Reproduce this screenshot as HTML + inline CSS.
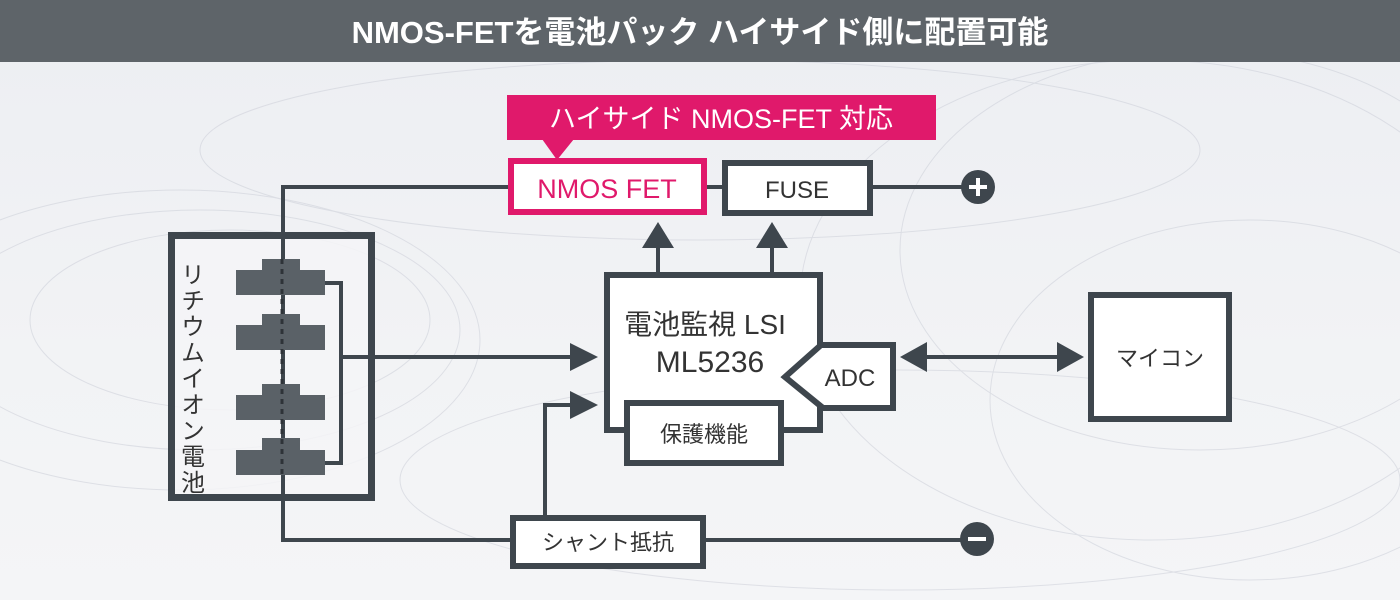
<!DOCTYPE html>
<html><head><meta charset="utf-8"><style>
html,body{margin:0;padding:0;width:1400px;height:600px;overflow:hidden}
body{background:linear-gradient(180deg,#eceef2,#f2f3f5 60%,#f4f5f7);font-family:"Liberation Sans","Noto Sans CJK JP",sans-serif}
</style></head><body>
<svg width="1400" height="600" xmlns="http://www.w3.org/2000/svg" style="position:absolute;left:0;top:0" font-family="Liberation Sans, Noto Sans CJK JP, sans-serif">
<g fill="none" stroke="#c9ccd6" stroke-width="1" opacity="0.5">
<ellipse cx="200" cy="330" rx="260" ry="120"/><ellipse cx="230" cy="320" rx="200" ry="90"/>
<ellipse cx="180" cy="340" rx="300" ry="150"/><ellipse cx="1200" cy="250" rx="300" ry="200"/>
<ellipse cx="1150" cy="300" rx="350" ry="240"/><ellipse cx="700" cy="150" rx="500" ry="90"/>
<ellipse cx="1250" cy="400" rx="260" ry="180"/><ellipse cx="900" cy="480" rx="500" ry="110"/>
</g>
<rect x="0" y="0" width="1400" height="62" fill="#5e6469"/>
<text x="700" y="43" text-anchor="middle" font-size="31" font-weight="bold" fill="#fff">NMOS-FETを電池パック ハイサイド側に配置可能</text>
<rect x="171.5" y="235.5" width="200" height="262" fill="#f4f5f7" fill-opacity="0.85" stroke="#3e464d" stroke-width="7"/>
<g stroke="#3e464d" stroke-width="4" fill="none">
<polyline points="510,187 283,187 283,540 512,540"/>
<line x1="872" y1="187" x2="965" y2="187"/>
<line x1="705" y1="540" x2="965" y2="540"/>
<line x1="705" y1="187" x2="722" y2="187"/>
<polyline points="325,283 341,283 341,463 325,463"/>
<line x1="341" y1="357" x2="575" y2="357"/>
<polyline points="545,515 545,405 575,405"/>
<line x1="658" y1="272" x2="658" y2="245"/>
<line x1="772" y1="272" x2="772" y2="245"/>
<line x1="925" y1="357" x2="1060" y2="357"/>
</g>
<g fill="#3e464d">
<polygon points="570,343 598,357 570,371"/>
<polygon points="570,391 598,405 570,419"/>
<polygon points="642,248 658,222 674,248"/>
<polygon points="756,248 772,222 788,248"/>
<polygon points="927,342 900,357 927,372"/>
<polygon points="1057,342 1084,357 1057,372"/>
<circle cx="978" cy="187" r="17"/><circle cx="977" cy="539" r="17"/>
</g>
<g stroke="#fff" stroke-width="4"><line x1="969" y1="187" x2="987" y2="187"/><line x1="978" y1="178" x2="978" y2="196"/><line x1="968" y1="539" x2="986" y2="539"/></g>
<text font-size="24" fill="#333" x="190" y="262" style="writing-mode:vertical-rl;letter-spacing:2px">リチウムイオン電池</text>
<g fill="#5a6167">
<path d="M262,259h38v11h25v25h-89v-25h26z"/>
<path d="M262,314h38v11h25v25h-89v-25h26z"/>
<path d="M262,384h38v11h25v25h-89v-25h26z"/>
<path d="M262,438h38v12h25v25h-89v-25h26z"/>
</g>
<line x1="282" y1="259" x2="282" y2="475" stroke="#2e3338" stroke-width="3" stroke-dasharray="5,5"/>
<rect x="607" y="275" width="213" height="155" fill="#fff" stroke="#3e464d" stroke-width="6"/>
<text x="705" y="334" text-anchor="middle" font-size="28" fill="#333">電池監視 LSI</text>
<text x="710" y="372" text-anchor="middle" font-size="30" fill="#333">ML5236</text>
<polygon points="785,377 821,345 893,345 893,408 823,408" fill="#fff" stroke="#3e464d" stroke-width="6"/>
<text x="850" y="386" text-anchor="middle" font-size="24" fill="#333">ADC</text>
<rect x="627" y="403" width="154" height="60" fill="#fff" stroke="#3e464d" stroke-width="6"/>
<text x="704" y="442" text-anchor="middle" font-size="22" fill="#333">保護機能</text>
<rect x="725" y="163" width="145" height="50" fill="#fff" stroke="#3e464d" stroke-width="6"/>
<text x="797" y="198" text-anchor="middle" font-size="24" fill="#333">FUSE</text>
<rect x="511" y="161" width="193" height="51" fill="#fff" stroke="#e0196b" stroke-width="6"/>
<text x="607" y="198" text-anchor="middle" font-size="27" fill="#e0196b">NMOS FET</text>
<rect x="507" y="95" width="429" height="45" fill="#e0196b"/>
<polygon points="542,139 574,139 557,160" fill="#e0196b"/>
<text x="721" y="128" text-anchor="middle" font-size="27" fill="#fff">ハイサイド NMOS-FET 対応</text>
<rect x="513" y="518" width="190" height="48" fill="#fff" stroke="#3e464d" stroke-width="6"/>
<text x="608" y="550" text-anchor="middle" font-size="22" fill="#333">シャント抵抗</text>
<rect x="1091" y="295" width="138" height="124" fill="#fff" stroke="#3e464d" stroke-width="6"/>
<text x="1160" y="366" text-anchor="middle" font-size="22" fill="#333">マイコン</text>
</svg>
</body></html>
